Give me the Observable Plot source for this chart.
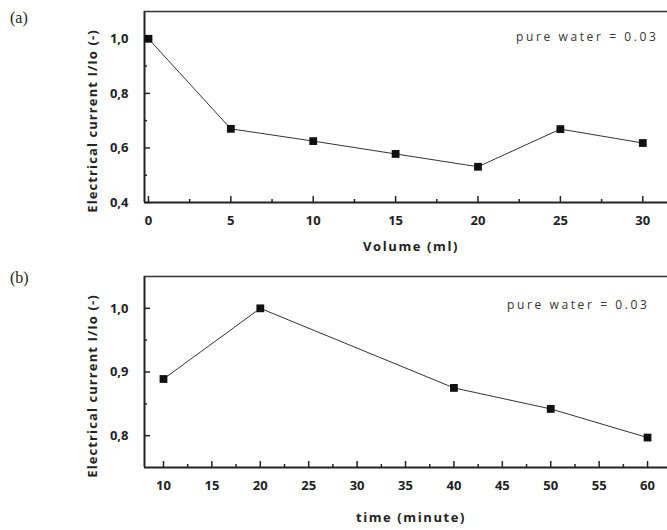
<!DOCTYPE html>
<html><head><meta charset="utf-8">
<script src="https://cdn.jsdelivr.net/npm/d3@7"></script>
<script src="https://cdn.jsdelivr.net/npm/@observablehq/plot@0.6"></script>
<style>
body{margin:0;background:#fff;}
#wrap{position:relative;width:667px;height:530px;overflow:hidden;}
.panel{position:absolute;left:0;z-index:1;}
.lbl{position:absolute;left:10px;z-index:2;font-family:"Liberation Serif","Times New Roman",serif;font-size:16px;line-height:16px;color:#222;}
.note{letter-spacing:2.6px;}
.ylab{letter-spacing:1.1px;}
.xlab{letter-spacing:1.6px;}
</style></head><body>
<div id="wrap">
  <div class="lbl" style="top:10px">(a)</div>
  <div class="lbl" style="top:270px">(b)</div>
</div>
<script>
// Panel (a)
const volumeMl = [0, 5, 10, 15, 20, 25, 30];
const currentA = [1.0, 0.67, 0.625, 0.578, 0.531, 0.669, 0.618];
const xTicksA = [0, 5, 10, 15, 20, 25, 30];
const xMinorA = [2.5, 7.5, 12.5, 17.5, 22.5, 27.5];
const yTicksA = [0.4, 0.6, 0.8, 1.0];
const yMinorA = [0.5, 0.7, 0.9];
// Panel (b)
const timeMin = [10, 20, 40, 50, 60];
const currentB = [0.889, 1.0, 0.875, 0.842, 0.797];
const xTicksB = [10, 15, 20, 25, 30, 35, 40, 45, 50, 55, 60];
const xMinorB = [12.5, 17.5, 22.5, 27.5, 32.5, 37.5, 42.5, 47.5, 52.5, 57.5];
const yTicksB = [0.8, 0.9, 1.0];
const yMinorB = [0.85, 0.95];
const yLabel = "Electrical current I/Io (-)";
const note = "pure water = 0.03";

function panel(o) {
  const W = 667, ml = 144, mr = 0;
  const innerW = W - ml - mr, innerH = o.height - o.mt - o.mb;
  const data = o.xs.map((x, i) => ({x, y: o.ys[i]}));
  const fmtY = d => d.toFixed(1).replace(".", ",");
  return Plot.plot({
    width: W, height: o.height,
    marginLeft: ml, marginRight: mr, marginTop: o.mt, marginBottom: o.mb,
    style: {fontFamily: "'Open Sans', sans-serif", fontSize: "13px", fontWeight: "bold", color: "#222", background: "#fff", overflow: "visible"},
    x: {domain: o.xDomain, label: null},
    y: {domain: o.yDomain, label: null},
    marks: [
      Plot.ruleX([o.xDomain[0]], {stroke: "#222", strokeWidth: 2}),
      Plot.ruleY([o.yDomain[0]], {stroke: "#222", strokeWidth: 2}),
      Plot.ruleY([o.yDomain[1]], {stroke: "#333", strokeWidth: 1.6}),
      Plot.tickX(o.xTicks, {x: d => d, insetTop: innerH - 6, stroke: "#222", strokeWidth: 1.5}),
      Plot.tickX(o.xMinor, {x: d => d, insetTop: innerH - 3, stroke: "#222", strokeWidth: 1.5}),
      Plot.tickY(o.yTicks, {y: d => d, insetRight: innerW - 6, stroke: "#222", strokeWidth: 1.5}),
      Plot.tickY(o.yMinor, {y: d => d, insetRight: innerW - 3, stroke: "#222", strokeWidth: 1.5}),
      Plot.axisX({ticks: o.xTicks, tickSize: 0, tickPadding: 13, tickFormat: d => String(d), label: null, fill: "#222"}),
      Plot.axisY({ticks: o.yTicks, tickSize: 0, tickPadding: 16, tickFormat: fmtY, label: null, fill: "#222"}),
      Plot.line(data, {x: "x", y: "y", stroke: "#333", strokeWidth: 1}),
      Plot.dot(data, {x: "x", y: "y", symbol: "square", r: 4.4, fill: "#111"}),
      Plot.text([yLabel], {text: d => d, frameAnchor: "left", textAnchor: "middle", lineAnchor: "middle", rotate: -90, dx: -52, dy: 14, fontSize: 13, fill: "#222", className: "ylab"}),
      Plot.text([o.xLabel], {text: d => d, frameAnchor: "bottom", textAnchor: "middle", lineAnchor: "middle", dx: 5, dy: o.xLabDy, fill: "#222", className: "xlab"}),
      Plot.text([note], {text: d => d, frameAnchor: "top-right", textAnchor: "end", lineAnchor: "middle", dx: o.noteDx, dy: o.noteDy, fontWeight: "normal", fontSize: 12, fill: "#333", className: "note"})
    ]
  });
}

const wrap = document.getElementById("wrap");
const a = panel({height: 260, mt: 11, mb: 58, xs: volumeMl, ys: currentA,
  xDomain: [-0.24, 31.5], yDomain: [0.4, 1.1], xTicks: xTicksA, xMinor: xMinorA,
  yTicks: yTicksA, yMinor: yMinorA, xLabel: "Volume (ml)", xLabDy: 44, noteDx: -9, noteDy: 26});
a.classList.add("panel"); a.style.top = "0px";
const b = panel({height: 270, mt: 16, mb: 63, xs: timeMin, ys: currentB,
  xDomain: [8.04, 62.06], yDomain: [0.75, 1.05], xTicks: xTicksB, xMinor: xMinorB,
  yTicks: yTicksB, yMinor: yMinorB, xLabel: "time (minute)", xLabDy: 50, noteDx: -18, noteDy: 29});
b.classList.add("panel"); b.style.top = "260px";
wrap.appendChild(a);
wrap.appendChild(b);
</script>
</body></html>
